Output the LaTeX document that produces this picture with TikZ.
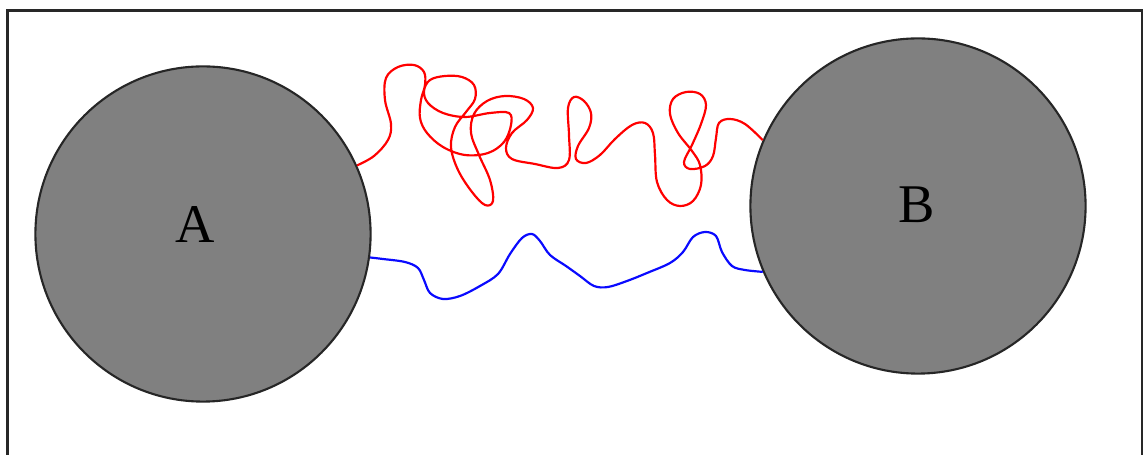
\documentclass[tikz,border=0pt]{standalone}
\usepackage{fontspec}
\setmainfont{Liberation Serif}
\definecolor{diskfill}{RGB}{128,128,128}
\definecolor{framecol}{RGB}{40,40,40}
\definecolor{chainred}{RGB}{255,0,0}
\definecolor{chainblue}{RGB}{10,10,255}
\tikzset{
  disk/.style={circle, draw=black!85, line width=0.6pt, fill=diskfill,
    minimum size=3.35cm, inner sep=0pt},
  disklabel/.style={font=\fontsize{15.5}{18}\selectfont, inner sep=0pt},
  redchain/.style={draw=chainred, line width=0.62pt, line join=round},
  bluechain/.style={draw=chainblue, line width=0.62pt, line join=round},
  boxframe/.style={draw=framecol, line width=0.6pt}
}
\begin{document}
\begin{tikzpicture}[x=0.01cm, y=-0.01cm]
\useasboundingbox (0,0) rectangle (1145,455);
% open frame (its lower edge lies below the page)
\draw[boxframe] (7.5,455) -- (7.5,10.5) -- (1142,10.5) -- (1142,455);

% the two spheres
\node[disk] (A) at (203,234) {};
\node[disk] (B) at (918,206) {};
\node[disklabel] (labA) at (195,225) {A};
\node[disklabel] (labB) at (917,205) {B};

% long, tangled red chain
\draw[redchain] plot[smooth, tension=0.6] coordinates {
  (A.24.4) (374,156) (388,140) (391,124) (385,100) (386,78) (398,67)
  (414,65) (424,72) (425,85) (421,100) (420,118) (427,133) (443,147)
  (465,155) (488,153) (504,142) (511,125) (509,113) (490,113) (465,117)
  (443,113) (428,103) (424,91) (430,80) (445,76) (462,77) (474,85)
  (475,99) (466,112) (455,127) (451,147) (458,170) (472,192) (485,205)
  (493,201) (490,180) (479,155) (471,133) (474,114) (487,101) (505,96)
  (524,99) (533,108) (527,120) (512,133) (506,148) (512,159) (535,164)
  (558,168) (569,160) (569,135) (568,108) (574,97) (584,101) (591,113)
  (589,128) (578,146) (576,159) (586,163) (600,155) (615,139) (632,125)
  (645,123) (653,133) (655,155) (657,182) (667,200) (680,206) (693,201)
  (701,185) (700,165) (692,151) (678,133) (670,114) (673,99) (686,92)
  (700,94) (706,105) (701,124) (692,145) (684,162) (690,169) (705,166)
  (713,156) (716,138) (719,123) (730,119) (745,124) (B.157.6)};

% short blue chain
\draw[bluechain] plot[smooth, tension=0.55] coordinates {
  (A.-8.3) (383,259) (405,262) (418,268) (424,280) (430,293) (443,299)
  (460,296) (480,286) (498,274) (510,254) (522,238) (532,234) (540,241)
  (550,255) (566,266) (580,276) (594,286) (608,287) (627,281) (647,273)
  (670,263) (683,252) (693,237) (705,232) (716,236) (722,252) (732,266)
  (745,270) (B.-157.6)};
\end{tikzpicture}
\end{document}
